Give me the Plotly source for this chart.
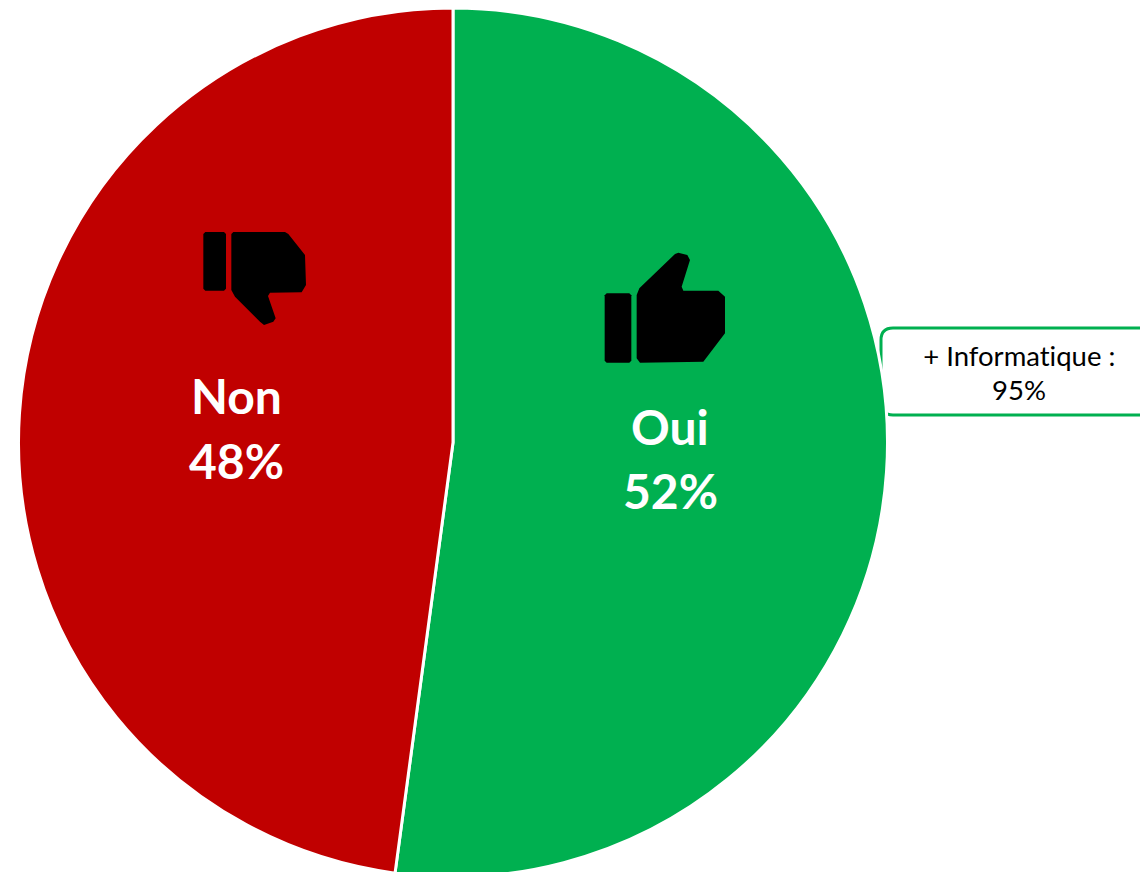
import plotly.graph_objects as go

categories = ["Oui", "Non"]
values = [52.13, 47.87]
colors = ["#00B050", "#C00000"]
callout_lines = ["+ Informatique :", "95%"]

W, H = 1140, 884
CX, CY, R = 453, 442.5, 434.5


def px(x):
    return x / W


def py(y):
    return 1 - y / H


def path(points):
    return "M" + " L".join(f"{px(x):.5f},{py(y):.5f}" for x, y in points) + " Z"


def zoomed(points, ox, oy):
    return [(ox + a / 3, oy + b / 3) for a, b in points]


icon = dict(type="path", xref="paper", yref="paper", fillcolor="black", line=dict(width=0), layer="above")

up_bar = zoomed([(50, 160), (118, 160), (124, 166), (124, 362), (118, 368), (50, 368), (44, 362), (44, 166)], 590, 240)
up_hand = zoomed([(140, 165), (148, 145), (255, 42), (265, 38), (292, 45), (300, 60), (275, 140), (280, 152),
                  (385, 152), (405, 170), (405, 280), (340, 365), (150, 368), (140, 355)], 590, 240)
down_bar = zoomed([(46, 36), (102, 36), (108, 42), (108, 206), (102, 212), (46, 212), (40, 206), (40, 42)], 190, 220)
down_hand = zoomed([(124, 42), (130, 36), (285, 36), (295, 42), (345, 105), (348, 195), (335, 217), (240, 218),
                    (234, 228), (257, 295), (250, 305), (222, 315), (210, 305), (135, 230), (124, 210)], 190, 220)

shapes = [dict(icon, path=path(p)) for p in (up_bar, up_hand, down_bar, down_hand)]

# callout box, open past the right edge of the page
box_l, box_t, box_b = 881, 328, 415
box_path = (
    f"M{px(1150):.5f},{py(box_t):.5f} L{px(box_l + 12):.5f},{py(box_t):.5f} "
    f"Q{px(box_l):.5f},{py(box_t):.5f} {px(box_l):.5f},{py(box_t + 12):.5f} "
    f"L{px(box_l):.5f},{py(box_b - 12):.5f} "
    f"Q{px(box_l):.5f},{py(box_b):.5f} {px(box_l + 12):.5f},{py(box_b):.5f} "
    f"L{px(1150):.5f},{py(box_b):.5f} Z"
)
shapes.append(dict(type="path", xref="paper", yref="paper", path=box_path, fillcolor="white",
                   line=dict(color="#00B050", width=3), layer="below"))


def label(text, x, y, size, color, weight="normal"):
    return dict(text=text, x=px(x), y=py(y), xref="paper", yref="paper", showarrow=False,
                xanchor="center", yanchor="middle",
                font=dict(family="Lato", size=size, color=color, weight=weight))


annotations = [
    label(categories[0], 670, 426, 48, "white", "bold"),
    label(f"{values[0]:.0f}%", 670, 490, 48, "white", "bold"),
    label(categories[1], 236, 396, 48, "white", "bold"),
    label(f"{values[1]:.0f}%", 236, 460, 48, "white", "bold"),
    label(callout_lines[0], 1019, 355, 27.5, "black"),
    label(callout_lines[1], 1019, 389, 27.5, "black"),
]

fig = go.Figure(go.Pie(
    labels=categories,
    values=values,
    sort=False,
    direction="clockwise",
    rotation=0,
    textinfo="none",
    hoverinfo="label+percent",
    marker=dict(colors=colors, line=dict(color="white", width=3)),
    domain=dict(x=[(CX - R) / W, (CX + R) / W], y=[py(CY + R), py(CY - R)]),
))
fig.update_layout(
    width=W, height=H, margin=dict(l=0, r=0, t=0, b=0),
    showlegend=False, paper_bgcolor="white", shapes=shapes, annotations=annotations,
)
post = (
    "document.documentElement.style.overflow='hidden';"
    "document.body.style.overflow='hidden';"
    "document.body.style.margin='0';"
    "var s=document.createElement('style');"
    "s.textContent='text{font-variant-ligatures:none !important}';"
    "document.head.appendChild(s);"
)
fig.write_html("out.html", config={"displayModeBar": False}, post_script=post)
